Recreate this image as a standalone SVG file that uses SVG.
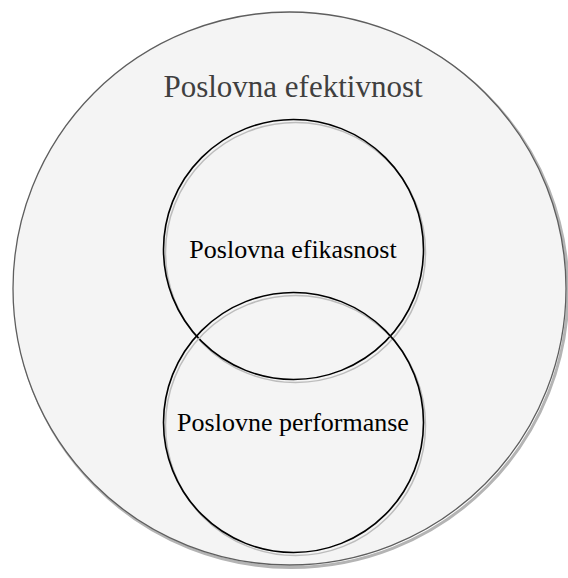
<svg xmlns="http://www.w3.org/2000/svg" width="568" height="578" viewBox="0 0 568 578">
<defs>
<style>
.bg{fill:#ffffff}
.outer-shadow{fill:none;stroke:#b4b4b4;stroke-width:3}
.outer{fill:#f4f4f4;stroke:#5e5e5e;stroke-width:1.3}
.ring-shadow{fill:none;stroke:#bdbdbd;stroke-width:1.5}
.ring{fill:none;stroke:#000000;stroke-width:1.6}
</style>
</defs>
<rect class="bg" x="0" y="0" width="568" height="578"/>
<g id="poslovna-efektivnost">
<circle class="outer-shadow" cx="291.5" cy="291" r="276.5"/>
<circle class="outer" cx="289.5" cy="288.5" r="276.5"/>
<text x="293" y="97" font-family="'Liberation Serif', 'DejaVu Serif', serif" text-anchor="middle" font-size="31" fill="#3f3f3f">Poslovna efektivnost</text>
</g>
<g id="poslovna-efikasnost">
<circle class="ring-shadow" cx="295.5" cy="252.5" r="130"/>
<circle class="ring" cx="293.5" cy="249.5" r="130"/>
<text x="293" y="258" font-family="'Liberation Serif', 'DejaVu Serif', serif" text-anchor="middle" font-size="26" fill="#000000">Poslovna efikasnost</text>
</g>
<g id="poslovne-performanse">
<circle class="ring-shadow" cx="295.5" cy="425.5" r="130"/>
<circle class="ring" cx="293.5" cy="422.5" r="130"/>
<text x="293" y="431" font-family="'Liberation Serif', 'DejaVu Serif', serif" text-anchor="middle" font-size="26" fill="#000000">Poslovne performanse</text>
</g>
<g id="connectors"></g>
</svg>
